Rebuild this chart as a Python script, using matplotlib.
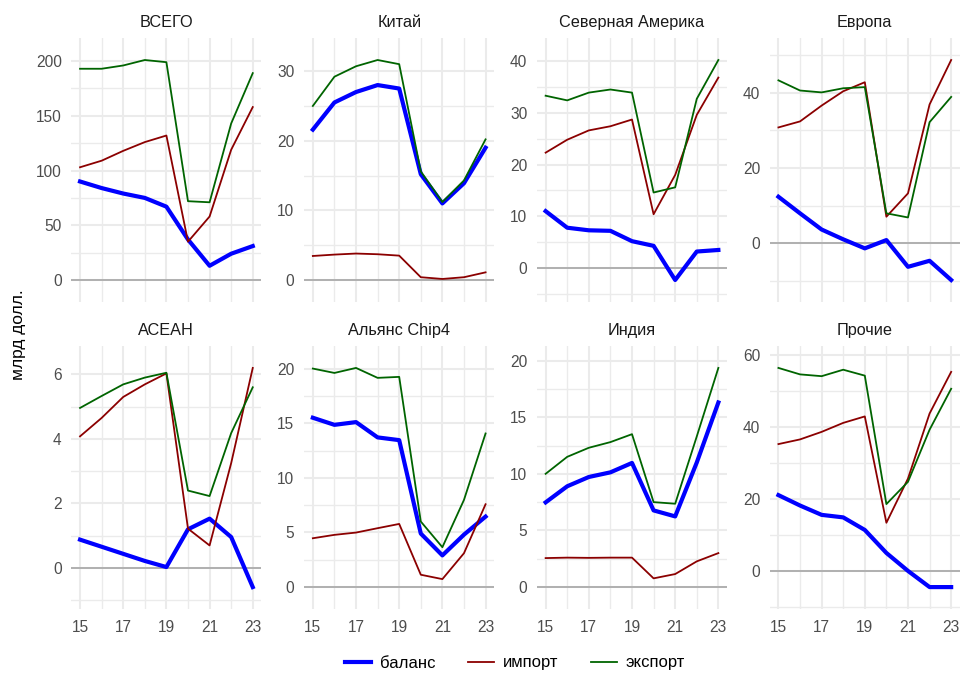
import matplotlib
matplotlib.use('Agg')
import matplotlib.pyplot as plt
from matplotlib.lines import Line2D

plt.rcParams['font.family'] = ['Liberation Sans', 'DejaVu Sans']

years = [15, 16, 17, 18, 19, 20, 21, 22, 23]
regions = ['ВСЕГО', 'Китай', 'Северная Америка', 'Европа',
           'АСЕАН', 'Альянс Chip4', 'Индия', 'Прочие']

# экспорт, млрд долл.
export_all = [193, 193, 196, 201, 199, 72, 71, 143, 189]
export_china = [25.0, 29.2, 30.7, 31.6, 31.0, 15.6, 11.2, 14.3, 20.2]
export_na = [33.3, 32.4, 33.9, 34.5, 33.9, 14.6, 15.6, 32.7, 40.2]
export_eu = [43.3, 40.6, 40.1, 41.2, 41.5, 8.0, 6.9, 32.2, 38.9]
export_asean = [4.96, 5.33, 5.69, 5.9, 6.05, 2.4, 2.23, 4.18, 5.6]
export_chip4 = [20.0, 19.6, 20.06, 19.15, 19.24, 6.0, 3.65, 7.98, 14.06]
export_india = [10.0, 11.5, 12.3, 12.8, 13.5, 7.5, 7.36, 13.3, 19.35]
export_other = [56.5, 54.7, 54.2, 56.0, 54.35, 18.6, 24.8, 39.3, 50.7]

# импорт
import_all = [103, 109, 118, 126, 132, 35, 58, 119, 158]
import_china = [3.45, 3.65, 3.8, 3.7, 3.5, 0.4, 0.15, 0.4, 1.1]
import_na = [22.3, 24.8, 26.6, 27.4, 28.7, 10.4, 18.0, 29.6, 36.8]
import_eu = [30.8, 32.4, 36.6, 40.4, 42.8, 7.1, 13.3, 36.9, 48.7]
import_asean = [4.08, 4.65, 5.3, 5.69, 6.03, 1.22, 0.7, 3.25, 6.2]
import_chip4 = [4.47, 4.78, 4.99, 5.39, 5.78, 1.13, 0.73, 3.1, 7.58]
import_india = [2.56, 2.6, 2.58, 2.6, 2.6, 0.77, 1.15, 2.27, 3.0]
import_other = [35.3, 36.6, 38.7, 41.2, 43.0, 13.4, 25.7, 43.8, 55.4]

# баланс
balance_all = [90, 84, 79, 75, 67, 37, 13, 24, 31]
balance_china = [21.6, 25.5, 27.0, 28.0, 27.5, 15.2, 11.0, 13.9, 19.0]
balance_na = [11.0, 7.8, 7.3, 7.2, 5.2, 4.3, -2.3, 3.2, 3.5]
balance_eu = [12.4, 8.0, 3.7, 1.1, -1.3, 0.9, -6.2, -4.6, -9.7]
balance_asean = [0.88, 0.66, 0.44, 0.22, 0.03, 1.2, 1.53, 0.96, -0.59]
balance_chip4 = [15.5, 14.85, 15.1, 13.7, 13.45, 4.9, 2.9, 4.8, 6.45]
balance_india = [7.48, 8.9, 9.72, 10.13, 10.96, 6.77, 6.24, 11.0, 16.3]
balance_other = [21.1, 18.2, 15.6, 14.9, 11.4, 5.0, 0.0, -4.5, -4.5]

exports = [export_all, export_china, export_na, export_eu,
           export_asean, export_chip4, export_india, export_other]
imports = [import_all, import_china, import_na, import_eu,
           import_asean, import_chip4, import_india, import_other]
balances = [balance_all, balance_china, balance_na, balance_eu,
            balance_asean, balance_chip4, balance_india, balance_other]

# шаг основной сетки по оси y для каждой панели
y_steps = [50, 10, 10, 20, 2, 5, 5, 20]

c_bal, c_imp, c_exp = '#0000FF', '#8B0000', '#006400'
grid_c = '#EBEBEB'

fig = plt.figure(figsize=(9.6, 6.75), dpi=100)
W, H = 960, 675
lefts = [71.4 + i * 232.8 for i in range(4)]
rows = [(38, 302), (346, 609)]

for k, reg in enumerate(regions):
    r, c = divmod(k, 4)
    top, bot = rows[r]
    ax = fig.add_axes([lefts[c] / W, 1 - bot / H, 190 / W, (bot - top) / H])

    ax.axhline(0, color='#A6A6A6', lw=1.2, zorder=1)
    ax.plot(years, balances[k], color=c_bal, lw=3.0, zorder=3, solid_joinstyle='round')
    ax.plot(years, imports[k], color=c_imp, lw=1.3, zorder=4)
    ax.plot(years, exports[k], color=c_exp, lw=1.3, zorder=5)

    vals = [0] + exports[k] + imports[k] + balances[k]
    lo, hi = min(vals), max(vals)
    pad = (hi - lo) * 0.1
    ax.set_ylim(lo - pad, hi + pad)
    ax.set_xlim(14.6, 23.4)

    st = y_steps[k]
    major = [v * st for v in range(-5, 20) if lo - pad <= v * st <= hi + pad]
    minor = [v * st + st / 2 for v in range(-5, 20) if lo - pad <= v * st + st / 2 <= hi + pad]
    ax.set_yticks(major)
    ax.set_yticks(minor, minor=True)
    ax.set_yticklabels([str(int(v)) for v in major])
    ax.set_xticks([15, 17, 19, 21, 23])
    ax.set_xticks([16, 18, 20, 22], minor=True)
    if r == 1:
        ax.set_xticklabels(['15', '17', '19', '21', '23'])
    else:
        ax.set_xticklabels([])

    ax.grid(True, which='major', color=grid_c, lw=1.5, zorder=0)
    ax.grid(True, which='minor', color=grid_c, lw=1.0, zorder=0)
    ax.set_axisbelow(True)
    ax.tick_params(which='both', length=0, labelsize=11.2, colors='#4D4D4D')
    ax.tick_params(axis='y', pad=7)
    ax.tick_params(axis='x', pad=8)
    for s in ax.spines.values():
        s.set_visible(False)
    ax.set_title(reg, fontsize=11.7, color='#1A1A1A', pad=8)

fig.text(0.019, 0.505, 'млрд долл.', rotation=90, ha='center', va='center',
         fontsize=12.5, color='black')

handles = [Line2D([], [], color=c_bal, lw=3.0),
           Line2D([], [], color=c_imp, lw=1.3),
           Line2D([], [], color=c_exp, lw=1.3)]
fig.legend(handles, ['баланс', 'импорт', 'экспорт'], loc='center',
           bbox_to_anchor=(515 / W, 1 - 663 / H), ncol=3, frameon=False,
           fontsize=12, handlelength=1.55, handletextpad=0.5,
           columnspacing=2.0)

fig.savefig('out.png', dpi=100, facecolor='white')
